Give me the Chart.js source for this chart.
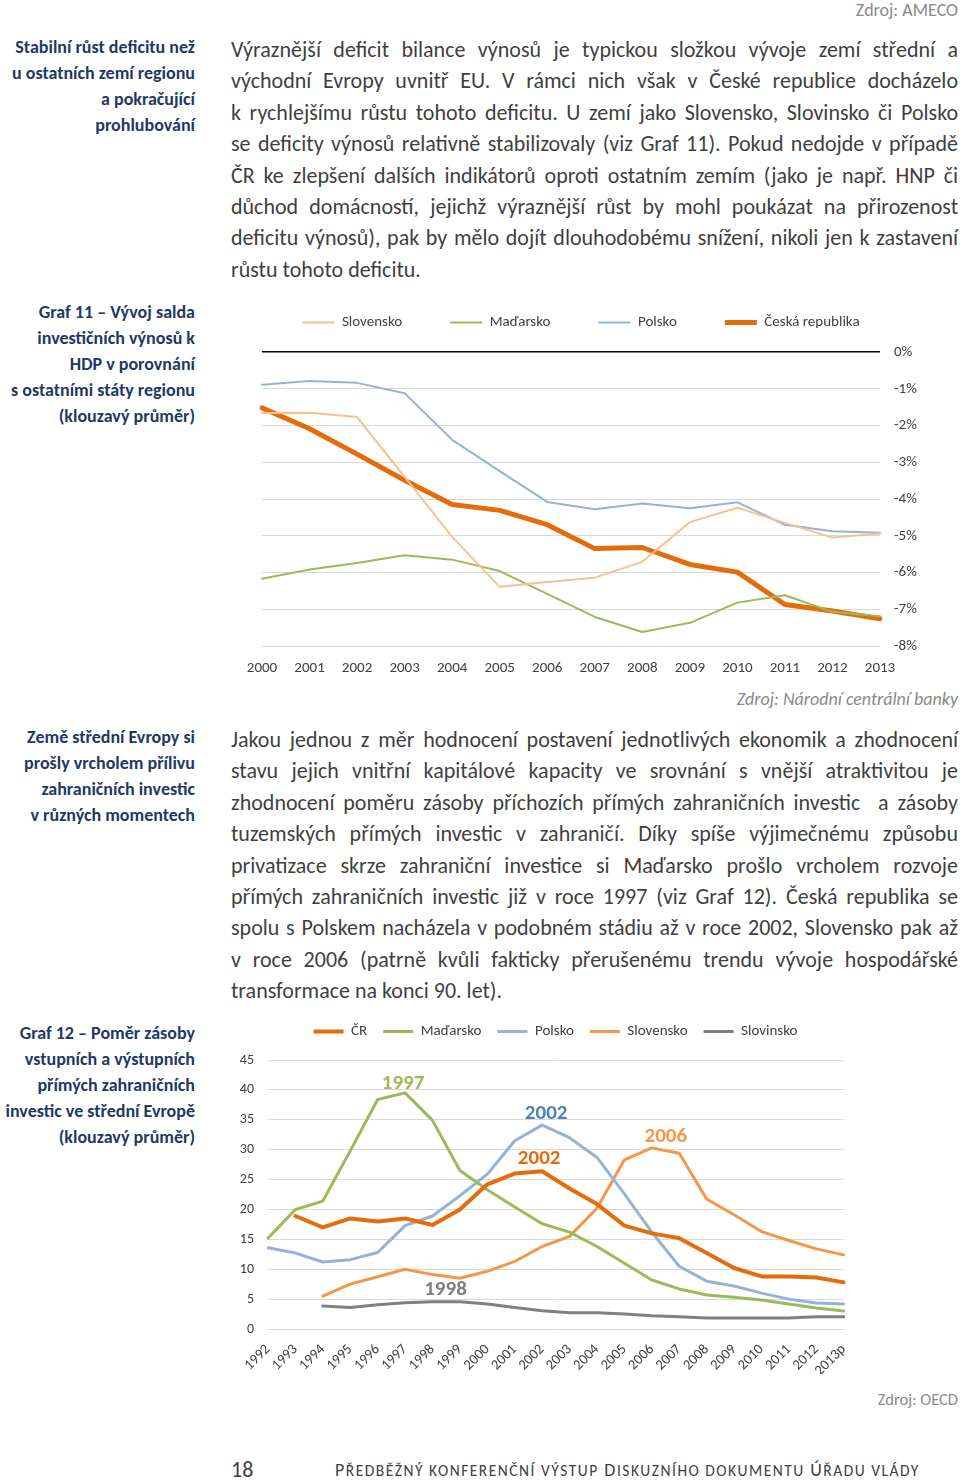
<!DOCTYPE html>
<html lang="cs">
<head>
<meta charset="utf-8">
<script src="https://cdn.jsdelivr.net/npm/chart.js@4.4.0/dist/chart.umd.min.js"></script>
<style>
body { margin:0; width:960px; height:1480px; background:#fff; position:relative; overflow:hidden;
       font-family: Carlito, Lato, sans-serif; color:#3f3f3f; }
.side { position:absolute; right:765px; text-align:right; font-weight:bold; color:#1F3864; font-size:18px; line-height:26px; white-space:nowrap; }
.para { position:absolute; left:231px; width:727px; font-size:22px; line-height:31.4px; }
.para div { text-align:justify; text-align-last:justify; white-space:nowrap; }
.para div.last { text-align-last:left; }
.src { position:absolute; right:2px; font-size:18px; line-height:20px; color:#8a8a8a; white-space:nowrap; }
.foot { position:absolute; top:1458px; font-size:22px; line-height:24px; color:#404040; white-space:nowrap; }
.foot.title { font-size:18px; letter-spacing:1.5px; }
.foot span { font-size:15.5px; }
canvas { position:absolute; }
</style>
</head>
<body>

<div class="src" style="top:0px;">Zdroj: AMECO</div>

<div class="side" style="top:34px;">Stabilní růst deficitu než<br>u ostatních zemí regionu<br>a pokračující<br>prohlubování</div>

<div class="para" style="top:34px;">
<div>Výraznější deficit bilance výnosů je typickou složkou vývoje zemí střední a</div>
<div>východní Evropy uvnitř EU. V rámci nich však v České republice docházelo</div>
<div>k rychlejšímu růstu tohoto deficitu. U zemí jako Slovensko, Slovinsko či Polsko</div>
<div>se deficity výnosů relativně stabilizovaly (viz Graf 11). Pokud nedojde v případě</div>
<div>ČR ke zlepšení dalších indikátorů oproti ostatním zemím (jako je např. HNP či</div>
<div>důchod domácností, jejichž výraznější růst by mohl poukázat na přirozenost</div>
<div>deficitu výnosů), pak by mělo dojít dlouhodobému snížení, nikoli jen k zastavení</div>
<div class="last">růstu tohoto deficitu.</div>
</div>

<div class="side" style="top:299px;">Graf 11 – Vývoj salda<br>investičních výnosů k<br>HDP v porovnání<br>s ostatními státy regionu<br>(klouzavý průměr)</div>

<canvas id="graf11" width="699" height="414" style="left:231px; top:267px;"></canvas>

<div class="src" style="top:689px; font-style:italic;">Zdroj: Národní centrální banky</div>

<div class="side" style="top:724px;">Země střední Evropy si<br>prošly vrcholem přílivu<br>zahraničních investic<br>v různých momentech</div>

<div class="para" style="top:724px;">
<div>Jakou jednou z měr hodnocení postavení jednotlivých ekonomik a zhodnocení</div>
<div>stavu jejich vnitřní kapitálové kapacity ve srovnání s vnější atraktivitou je</div>
<div>zhodnocení poměru zásoby příchozích přímých zahraničních investic &nbsp;a zásoby</div>
<div>tuzemských přímých investic v zahraničí. Díky spíše výjimečnému způsobu</div>
<div>privatizace skrze zahraniční investice si Maďarsko prošlo vrcholem rozvoje</div>
<div>přímých zahraničních investic již v roce 1997 (viz Graf 12). Česká republika se</div>
<div>spolu s Polskem nacházela v podobném stádiu až v roce 2002, Slovensko pak až</div>
<div>v roce 2006 (patrně kvůli fakticky přerušenému trendu vývoje hospodářské</div>
<div class="last">transformace na konci 90. let).</div>
</div>

<div class="side" style="top:1020px;">Graf 12 – Poměr zásoby<br>vstupních a výstupních<br>přímých zahraničních<br>investic ve střední Evropě<br>(klouzavý průměr)</div>

<canvas id="graf12" width="629" height="366" style="left:231px; top:1008px;"></canvas>

<div class="src" style="top:1389px; font-size:16.5px;">Zdroj: OECD</div>

<div class="foot" style="left:231px;">18</div>
<div class="foot title" style="left:335px;">P<span>ŘEDBĚŽNÝ KONFERENČNÍ VÝSTUP</span> D<span>ISKUZNÍHO DOKUMENTU</span> Ú<span>ŘADU VLÁDY</span></div>

<script>
// Graf 11 - saldo investicnich vynosu k HDP (%)
var years11 = ['2000', '2001', '2002', '2003', '2004', '2005', '2006', '2007', '2008', '2009', '2010', '2011', '2012', '2013'];
var slovensko11 = [-1.66, -1.65, -1.77, -3.40, -5.03, -6.39, -6.26, -6.14, -5.71, -4.63, -4.24, -4.65, -5.05, -4.94];
var madarsko11 = [-6.17, -5.92, -5.74, -5.53, -5.65, -5.96, -6.58, -7.21, -7.62, -7.37, -6.82, -6.62, -7.07, -7.19];
var polsko11 = [-0.89, -0.79, -0.84, -1.12, -2.39, -3.24, -4.08, -4.28, -4.12, -4.25, -4.09, -4.70, -4.88, -4.92];
var cr11 = [-1.52, -2.09, -2.78, -3.49, -4.15, -4.31, -4.70, -5.35, -5.32, -5.78, -5.99, -6.87, -7.05, -7.26];

// Graf 12 - pomer zasoby PZI
var years12 = ['1992', '1993', '1994', '1995', '1996', '1997', '1998', '1999', '2000', '2001', '2002', '2003', '2004', '2005', '2006', '2007', '2008', '2009', '2010', '2011', '2012', '2013p'];
var cr12 = [null, 18.9, 17.0, 18.5, 18.0, 18.5, 17.4, 20.0, 24.2, 26.0, 26.4, 23.5, 20.9, 17.3, 16.0, 15.2, 12.7, 10.2, 8.8, 8.8, 8.6, 7.8];
var madarsko12 = [15.2, 20.0, 21.4, 29.8, 38.4, 39.5, 34.9, 26.5, 23.3, 20.4, 17.6, 16.2, 13.8, 11.0, 8.2, 6.7, 5.7, 5.3, 4.85, 4.2, 3.5, 3.0];
var polsko12 = [13.6, 12.7, 11.2, 11.6, 12.8, 17.3, 18.9, 22.3, 25.9, 31.5, 34.1, 32.0, 28.7, 22.6, 16.2, 10.5, 8.0, 7.2, 6.0, 5.0, 4.35, 4.2];
var slovensko12 = [null, null, 5.5, 7.5, 8.75, 10.0, 9.1, 8.5, 9.65, 11.3, 13.8, 15.5, 20.2, 28.3, 30.3, 29.4, 21.75, 19.1, 16.3, 14.8, 13.4, 12.4];
var slovinsko12 = [null, null, 3.85, 3.6, 4.05, 4.4, 4.55, 4.55, 4.2, 3.6, 3.05, 2.7, 2.7, 2.5, 2.2, 2.05, 1.85, 1.85, 1.85, 1.85, 2.05, 2.05];

// popisky vrcholu: dataset, index roku, text
var peaks12 = [
    { ds: 1, i: 5, text: '1997', color: '#9BBB59', dx: -2, dy: -9 },
    { ds: 2, i: 10, text: '2002', color: '#4F81BD', dx: 4, dy: -11 },
    { ds: 0, i: 10, text: '2002', color: '#E46C0A', dx: -3, dy: -12 },
    { ds: 3, i: 14, text: '2006', color: '#F79646', dx: 14, dy: -11 },
    { ds: 4, i: 6, text: '1998', color: '#7F7F7F', dx: 13, dy: -12 }
];

var FONT = 'Carlito, Lato, sans-serif';
var GREY = '#404040';

// mezera pod legendou a vodorovny posun legendy
var legendTweak = {
    id: 'legendTweak',
    beforeLayout: function (chart, args, opts) {
        var lg = chart.legend;
        if (!lg || lg._patched) return;
        var fit = lg.fit;
        lg.fit = function () { fit.call(this); this.height += opts.gap || 0; };
        lg._patched = true;
    },
    afterLayout: function (chart, args, opts) {
        var lg = chart.legend;
        if (!lg) return;
        lg.left += opts.shift || 0;
        lg.right += opts.shift || 0;
    }
};

new Chart(document.getElementById('graf11'), {
    type: 'line',
    data: {
        labels: years11,
        datasets: [
            { label: 'Slovensko', data: slovensko11, borderColor: '#FAC090', backgroundColor: '#FAC090', borderWidth: 2 },
            { label: 'Maďarsko', data: madarsko11, borderColor: '#9BBB59', backgroundColor: '#9BBB59', borderWidth: 2 },
            { label: 'Polsko', data: polsko11, borderColor: '#95B3D7', backgroundColor: '#95B3D7', borderWidth: 2 },
            { label: 'Česká republika', data: cr11, borderColor: '#E46C0A', backgroundColor: '#E46C0A', borderWidth: 5 }
        ]
    },
    options: {
        responsive: false,
        animation: false,
        elements: { point: { radius: 0 }, line: { tension: 0, borderCapStyle: 'round', borderJoinStyle: 'round' } },
        layout: { padding: { left: 31, top: 0, right: 0, bottom: 0 } },
        plugins: {
            legendTweak: { gap: 12, shift: -15 },
            legend: {
                position: 'top',
                labels: {
                    usePointStyle: true, pointStyle: 'line', pointStyleWidth: 32,
                    padding: 48, color: GREY, font: { family: FONT, size: 15 }
                }
            },
            tooltip: { enabled: false }
        },
        scales: {
            x: {
                offset: false,
                grid: { display: false },
                border: { display: false },
                ticks: { color: GREY, font: { family: FONT, size: 15 }, padding: 5, maxRotation: 0, autoSkip: false },
                afterFit: function (s) { s.height = 35; }
            },
            y: {
                position: 'right',
                min: -8, max: 0,
                ticks: { stepSize: 1, color: GREY, padding: 14, font: { family: FONT, size: 15 },
                         callback: function (v) { return v + '%'; } },
                grid: {
                    drawTicks: false,
                    color: function (c) { return c.tick && c.tick.value === 0 ? '#000000' : '#D9D9D9'; },
                    lineWidth: function (c) { return c.tick && c.tick.value === 0 ? 1.6 : 1; }
                },
                border: { display: false },
                afterFit: function (s) { s.width = 50; }
            }
        }
    },
    plugins: [legendTweak]
});

var peakPlugin = {
    id: 'peakLabels',
    afterDatasetsDraw: function (chart) {
        var ctx = chart.ctx;
        ctx.save();
        ctx.font = 'bold 21px ' + FONT;
        ctx.textAlign = 'center';
        ctx.textBaseline = 'middle';
        peaks12.forEach(function (p) {
            var pt = chart.getDatasetMeta(p.ds).data[p.i];
            ctx.fillStyle = p.color;
            ctx.fillText(p.text, pt.x + p.dx, pt.y + p.dy);
        });
        ctx.restore();
    }
};

new Chart(document.getElementById('graf12'), {
    type: 'line',
    data: {
        labels: years12,
        datasets: [
            { label: 'ČR', data: cr12, borderColor: '#E46C0A', backgroundColor: '#E46C0A', borderWidth: 4 },
            { label: 'Maďarsko', data: madarsko12, borderColor: '#9BBB59', backgroundColor: '#9BBB59', borderWidth: 3 },
            { label: 'Polsko', data: polsko12, borderColor: '#95B3D7', backgroundColor: '#95B3D7', borderWidth: 3 },
            { label: 'Slovensko', data: slovensko12, borderColor: '#F79646', backgroundColor: '#F79646', borderWidth: 3 },
            { label: 'Slovinsko', data: slovinsko12, borderColor: '#808080', backgroundColor: '#808080', borderWidth: 3 }
        ]
    },
    options: {
        responsive: false,
        animation: false,
        elements: { point: { radius: 0 }, line: { tension: 0, borderCapStyle: 'round', borderJoinStyle: 'round' } },
        layout: { padding: { left: 0, top: 0, right: 14, bottom: 0 } },
        plugins: {
            legendTweak: { gap: 11, shift: 17 },
            legend: {
                position: 'top',
                labels: {
                    usePointStyle: true, pointStyle: 'line', pointStyleWidth: 30,
                    padding: 16, color: GREY, font: { family: FONT, size: 15 }
                }
            },
            tooltip: { enabled: false }
        },
        scales: {
            x: {
                offset: false,
                grid: { display: false },
                border: { display: false },
                ticks: { color: GREY, font: { family: FONT, size: 14.5 }, padding: 4, minRotation: 45, maxRotation: 45, autoSkip: false },
                afterFit: function (s) { s.height = 45; }
            },
            y: {
                min: 0, max: 45,
                ticks: { stepSize: 5, color: GREY, padding: 14, font: { family: FONT, size: 14 } },
                grid: { drawTicks: false, color: '#D9D9D9' },
                border: { display: false },
                afterFit: function (s) { s.width = 37; }
            }
        }
    },
    plugins: [legendTweak, peakPlugin]
});
</script>
</body>
</html>
